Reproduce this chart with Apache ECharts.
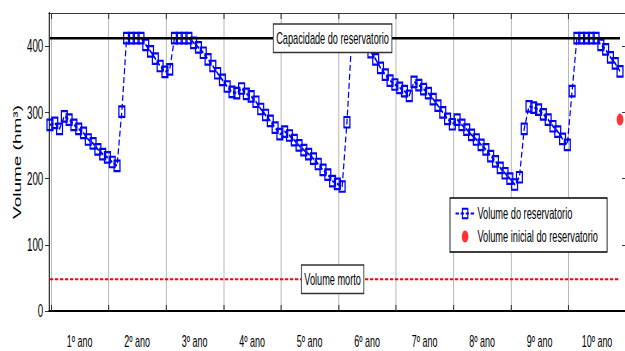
<!DOCTYPE html>
<html><head><meta charset="utf-8">
<script src="https://cdn.jsdelivr.net/npm/echarts@6/dist/echarts.min.js"></script>
<style>html,body{margin:0;padding:0;background:#fff;overflow:hidden}#wrap{width:625px;height:351px;overflow:hidden;position:relative}#c{height:351px;transform-origin:0 0}</style>
</head><body><div id="wrap"><div id="c"></div></div>
<script>
// ---- data ----
const yearLabels = ['1º ano','2º ano','3º ano','4º ano','5º ano','6º ano','7º ano','8º ano','9º ano','10º ano'];
const volume = [
  281, 284, 275, 294, 289, 281, 275, 269, 259, 253, 244, 237, 232, 225, 219,
  301,
  412, 412, 412, 412,
  402, 392, 381, 370, 361, 365,
  412, 412, 412, 412,
  405, 398, 390, 380, 370, 359, 349, 339, 331, 329, 336, 328, 324, 316, 305, 296,
  287, 277, 267, 271, 265, 258, 250, 243, 237, 230, 222, 213, 206, 196, 192, 188,
  285,
  412, 412, 412, 402,
  391, 380, 367, 357, 348, 342, 337, 332, 325,
  346, 341, 335, 329, 320, 310, 300, 290, 282,
  289, 281, 274, 266, 259, 251, 244, 234, 226, 216, 208, 200, 191, 202,
  275,
  309, 307, 304, 297, 289, 279, 271, 260, 251,
  332,
  412, 412, 412, 412, 412,
  402, 395, 383, 374, 362
];
const capacity = 412;
const deadVolume = 48;
const initialVolume = 289;
const yTickValues = [0, 100, 200, 300, 400];
const seriesNames = ['Volume do reservatorio', 'Volume inicial do reservatorio'];
const annotationTexts = ['Capacidade do reservatorio', 'Volume morto'];

// ---- layout (the original figure is horizontally squeezed; reproduce with a CSS scaleX) ----
const W = 1116;
const SCALE = 625 / W;
const px = v => v / SCALE;          // screen px (horizontal) -> chart px
const el = document.getElementById('c');
el.style.width = W + 'px';
el.style.transform = 'scaleX(' + SCALE + ')';

const FONT = "'Liberation Sans', Arial, sans-serif";
const lastIdx = volume.length - 1;
const monthsPerYear = 12;
const tickOffset = 0.25;
const labelOffset = 6.2;
const yearTicks = yearLabels.map((_, k) => k * monthsPerYear + tickOffset);
const yearLabelPos = yearLabels.map((_, k) => k * monthsPerYear + labelOffset);
const midIdx = 59;

const chart = echarts.init(el, null, {renderer: 'svg'});
const xCommon = {type: 'value', min: -0.2, max: 120.25};
const boxLabel = text => ({
  show: true, position: 'inside', formatter: text,
  backgroundColor: '#fff', borderColor: '#333', borderWidth: 1.5,
  padding: [5, px(2.5), 5, px(2.5)], lineHeight: 17,
  fontSize: 16.4, fontFamily: FONT, color: '#000'
});
chart.setOption({
  animation: false,
  backgroundColor: '#fff',
  grid: {left: px(49), top: 13, width: px(577), height: 298, containLabel: false, outerBoundsMode: 'none'},
  legend: {
    data: seriesNames,
    orient: 'vertical', left: px(450), top: 198,
    padding: [7, px(9), 7, px(5)], itemGap: 6, itemWidth: 34, itemHeight: 12,
    backgroundColor: '#fff', borderColor: '#000', borderWidth: 1.5,
    textStyle: {fontSize: 16.5, fontFamily: FONT, color: '#000', lineHeight: 14},
    z: 20
  },
  xAxis: [
    Object.assign({}, xCommon, {
      position: 'bottom',
      axisLine: {show: true, onZero: false, lineStyle: {color: '#000', width: 2}},
      axisTick: {show: true, inside: true, length: 6, customValues: yearTicks, lineStyle: {color: '#333', width: 1.8}},
      axisLabel: {show: true, customValues: yearLabelPos, margin: 22, fontSize: 16, lineHeight: 16, fontFamily: FONT, color: '#000',
        formatter: v => yearLabels[Math.round((v - labelOffset) / monthsPerYear)]},
      splitLine: {show: true, lineStyle: {color: '#b0b0b0', width: 1.6}}
    }),
    Object.assign({}, xCommon, {
      position: 'top',
      axisLine: {show: true, onZero: false, lineStyle: {color: '#000', width: 1}},
      axisTick: {show: true, inside: true, length: 6, customValues: yearTicks, lineStyle: {color: '#333', width: 1.8}},
      axisLabel: {show: false},
      splitLine: {show: false}
    })
  ],
  yAxis: [
    {
      type: 'value', min: 0, max: 450, position: 'left',
      name: 'Volume (hm³)', nameLocation: 'middle', nameGap: 47, nameMoveOverlap: false,
      nameTextStyle: {fontFamily: FONT, fontSize: 19, color: '#000'},
      axisLine: {show: true, onZero: false, lineStyle: {color: '#000', width: 1.8}},
      axisTick: {show: true, inside: false, length: px(4), customValues: yTickValues, lineStyle: {color: '#000'}},
      axisLabel: {show: true, customValues: yTickValues, margin: px(5.7), fontSize: 17.5, fontFamily: FONT, color: '#000'},
      splitLine: {show: false}
    },
    {
      type: 'value', min: 0, max: 450, position: 'right',
      axisLine: {show: true, onZero: false, lineStyle: {color: '#000', width: 1.8}},
      axisTick: {show: true, inside: true, length: px(4), customValues: yTickValues, lineStyle: {color: '#000'}},
      axisLabel: {show: false},
      splitLine: {show: false}
    }
  ],
  series: [
    {
      name: seriesNames[0], type: 'line', z: 2,
      data: volume.map((v, i) => [i, v]),
      symbol: 'rect', symbolSize: 10.5,
      itemStyle: {color: 'rgba(0,0,0,0)', borderColor: '#0000ff', borderWidth: 2.2},
      lineStyle: {color: '#0000ff', width: 2.2, type: [6, 3]}
    },
    {
      name: 'capacidade', type: 'line', z: 3, silent: true,
      data: [[0, capacity], [lastIdx, capacity]],
      symbol: 'none',
      lineStyle: {color: '#000', width: 2.5},
      markPoint: {
        z: 10, symbol: 'rect', symbolSize: 1, itemStyle: {color: 'rgba(0,0,0,0)'},
        label: boxLabel(annotationTexts[0]),
        data: [{coord: [midIdx, capacity]}]
      }
    },
    {
      name: 'morto', type: 'line', z: 3, silent: true,
      data: [[0, deadVolume], [lastIdx, deadVolume]],
      symbol: 'none',
      lineStyle: {color: '#ff0000', width: 2, type: [px(3.3), px(1.7)]},
      markPoint: {
        z: 10, symbol: 'rect', symbolSize: 1, itemStyle: {color: 'rgba(0,0,0,0)'},
        label: boxLabel(annotationTexts[1]),
        data: [{coord: [midIdx, deadVolume]}]
      }
    },
    {
      name: seriesNames[1], type: 'scatter', z: 4,
      data: [[lastIdx, initialVolume]],
      symbol: 'circle', symbolSize: 12,
      itemStyle: {color: '#ff0000'}
    }
  ]
});
</script></body></html>
